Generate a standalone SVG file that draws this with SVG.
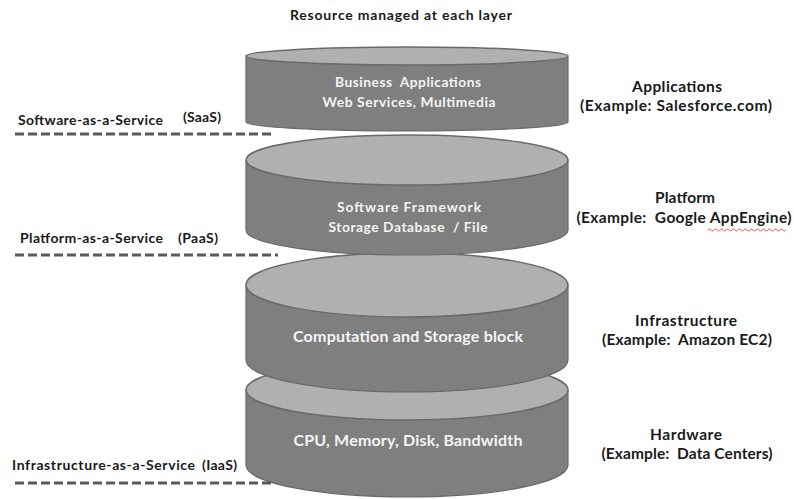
<svg xmlns="http://www.w3.org/2000/svg" width="794" height="499" viewBox="0 0 794 499">
<style>
.body{fill:#7f7f7f;stroke:#6a6a6a;stroke-width:1.2}
.top{fill:#b0b0b0;stroke:#6a6a6a;stroke-width:1.5}
.in{font-family:Lato,"Liberation Sans",sans-serif;fill:#f4f4f4;text-anchor:middle;font-weight:bold}
.lab{font-family:Lato,"Liberation Sans",sans-serif;fill:#1a1a1a;font-weight:bold}
.r{text-anchor:middle;font-size:15.5px}
.dash{stroke:#5a5a5a;stroke-width:3;stroke-dasharray:9 4;fill:none}
</style>
<rect width="794" height="499" fill="#ffffff"/>
<text class="lab" x="401" y="20" text-anchor="middle" font-size="14" textLength="222" lengthAdjust="spacing">Resource managed at each layer</text>

<g id="hardware">
<path class="body" d="M246,390 L246,465 A161,32 0 0 0 568,465 L568,390 Z"/>
<ellipse class="top" cx="407" cy="390" rx="161" ry="30"/>
<text class="in" x="408" y="446" font-size="16" textLength="229" lengthAdjust="spacing">CPU, Memory, Disk, Bandwidth</text>
</g>
<g id="infrastructure">
<path class="body" d="M246,285 L246,360 A161,32 0 0 0 568,360 L568,285 Z"/>
<ellipse class="top" cx="407" cy="285" rx="161" ry="32"/>
<text class="in" x="408" y="342" font-size="16" textLength="230" lengthAdjust="spacing">Computation and Storage block</text>
</g>
<g id="platform">
<path class="body" d="M246,160 L246,230 A161,25 0 0 0 568,230 L568,160 Z"/>
<ellipse class="top" cx="407" cy="160" rx="161" ry="25"/>
<text class="in" x="409" y="212" font-size="13.8" textLength="144" lengthAdjust="spacing">Software Framework</text>
<text class="in" x="408" y="232" font-size="13.8" textLength="159" lengthAdjust="spacing" xml:space="preserve">Storage Database  / File</text>
</g>
<g id="applications">
<path class="body" d="M246,56 L246,122 A161,9 0 0 0 568,122 L568,56 Z"/>
<ellipse class="top" cx="407" cy="56" rx="161" ry="9"/>
<text class="in" x="408" y="87" font-size="13.8" textLength="146" lengthAdjust="spacing" xml:space="preserve">Business  Applications</text>
<text class="in" x="409" y="107" font-size="13.8" textLength="173" lengthAdjust="spacing">Web Services, Multimedia</text>
</g>

<g id="connectors">
<line class="dash" x1="15" y1="134" x2="273" y2="134"/>
<line class="dash" x1="15" y1="255" x2="278" y2="255"/>
<line class="dash" x1="15" y1="483" x2="273" y2="483"/>
</g>

<g id="left-labels" class="lab" font-size="14">
<text x="18" y="125" textLength="145" lengthAdjust="spacing">Software-as-a-Service</text>
<text x="183" y="122" textLength="38" lengthAdjust="spacing">(SaaS)</text>
<text x="20" y="243" textLength="143" lengthAdjust="spacing">Platform-as-a-Service</text>
<text x="178" y="243" textLength="40" lengthAdjust="spacing">(PaaS)</text>
<text x="12" y="470" textLength="183" lengthAdjust="spacing">Infrastructure-as-a-Service</text>
<text x="202" y="470" textLength="35" lengthAdjust="spacing">(IaaS)</text>
</g>

<g id="right-labels" class="lab">
<text class="r" x="677" y="92" textLength="90" lengthAdjust="spacing">Applications</text>
<text class="r" x="676" y="111" textLength="192" lengthAdjust="spacing">(Example: Salesforce.com)</text>
<text class="r" x="685" y="203" textLength="60" lengthAdjust="spacing">Platform</text>
<text class="r" x="684" y="223" textLength="215" lengthAdjust="spacing" xml:space="preserve">(Example:  Google AppEngine)</text>
<path d="M708,230 q1.5,-2 3,0 t3,0 t3,0 t3,0 t3,0 t3,0 t3,0 t3,0 t3,0 t3,0 t3,0 t3,0 t3,0 t3,0 t3,0 t3,0 t3,0 t3,0 t3,0 t3,0 t3,0 t3,0 t3,0 t3,0 t3,0 t3,0" fill="none" stroke="#e03030" stroke-width="0.8"/>
<text class="r" x="686" y="326" textLength="102" lengthAdjust="spacing">Infrastructure</text>
<text class="r" x="687" y="345" textLength="170" lengthAdjust="spacing" xml:space="preserve">(Example:  Amazon EC2)</text>
<text class="r" x="686" y="440" textLength="72" lengthAdjust="spacing">Hardware</text>
<text class="r" x="687" y="459" textLength="171" lengthAdjust="spacing" xml:space="preserve">(Example:  Data Centers)</text>
</g>
</svg>
